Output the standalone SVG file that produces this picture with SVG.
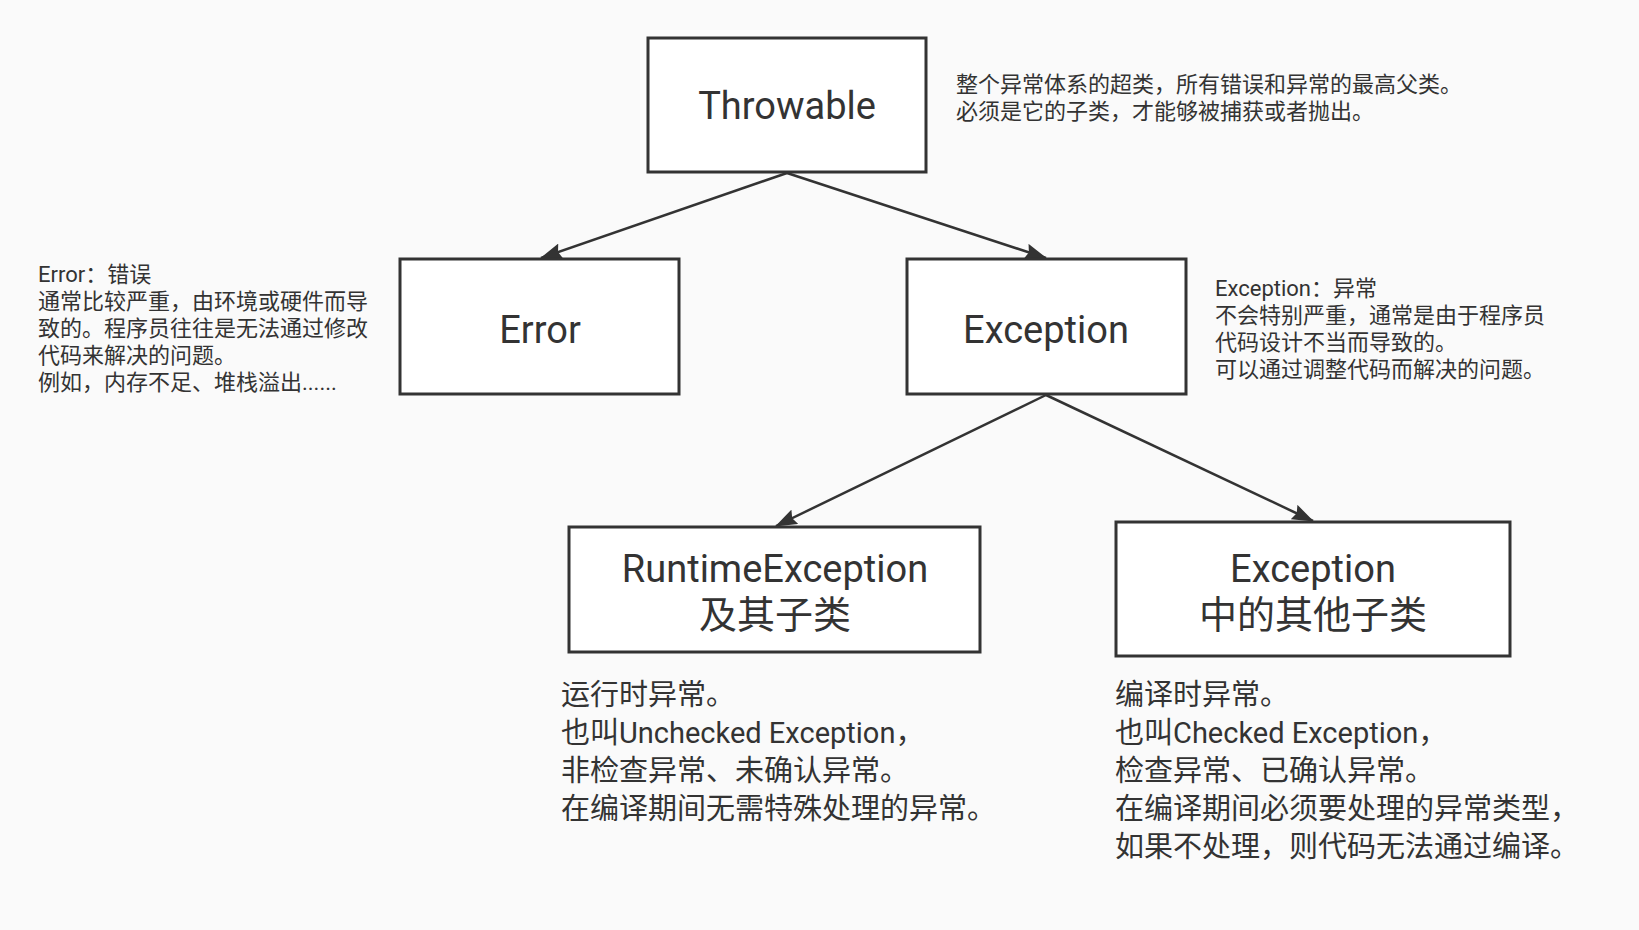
<svg xmlns="http://www.w3.org/2000/svg" width="1639" height="930" viewBox="0 0 1639 930">
<defs>
<style>
.box{fill:#ffffff;stroke:#333333;stroke-width:3}
.lbl{font-family:Roboto,"Noto Sans CJK SC",sans-serif;font-size:38px;fill:#333333;text-anchor:middle;dominant-baseline:central}
.note{font-family:Roboto,"Noto Sans CJK SC",sans-serif;font-size:22px;fill:#333333;dominant-baseline:central}
.big{font-family:Roboto,"Noto Sans CJK SC",sans-serif;font-size:29px;fill:#333333;dominant-baseline:central}
.edge{stroke:#333333;stroke-width:2.5;fill:none;marker-end:url(#arr)}
</style>
<marker id="arr" viewBox="0 0 22 16" refX="21" refY="8" markerWidth="22" markerHeight="16" markerUnits="userSpaceOnUse" orient="auto">
<path d="M0,0 L22,8 L0,16 L3,8 z" fill="#333333"/>
</marker>
</defs>
<rect width="1639" height="930" fill="#fafafa"/>
<g id="connectors">
<line class="edge" x1="787" y1="173" x2="541" y2="258"/>
<line class="edge" x1="787" y1="173" x2="1046" y2="258"/>
<line class="edge" x1="1046" y1="395" x2="776" y2="526"/>
<line class="edge" x1="1046" y1="395" x2="1313" y2="521"/>
</g>
<g id="throwable">
<rect class="box" x="648" y="38" width="278" height="134"/>
<text class="lbl" x="787" y="106">Throwable</text>
</g>
<g id="error">
<rect class="box" x="400" y="259" width="279" height="135"/>
<text class="lbl" x="540" y="330">Error</text>
</g>
<g id="exception">
<rect class="box" x="907" y="259" width="279" height="135"/>
<text class="lbl" x="1046" y="330">Exception</text>
</g>
<g id="runtime">
<rect class="box" x="569" y="527" width="411" height="125"/>
<text class="lbl" x="775" y="569">RuntimeException</text>
<text class="lbl" x="775" y="615">及其子类</text>
</g>
<g id="other">
<rect class="box" x="1116" y="522" width="394" height="134"/>
<text class="lbl" x="1313" y="569">Exception</text>
<text class="lbl" x="1313" y="615">中的其他子类</text>
</g>
<g id="throwable-note">
<text class="note" x="956" y="84">整个异常体系的超类，所有错误和异常的最高父类。</text>
<text class="note" x="956" y="111">必须是它的子类，才能够被捕获或者抛出。</text>
</g>
<g id="error-note">
<text class="note" x="38" y="274">Error：错误</text>
<text class="note" x="38" y="301">通常比较严重，由环境或硬件而导</text>
<text class="note" x="38" y="328">致的。程序员往往是无法通过修改</text>
<text class="note" x="38" y="355">代码来解决的问题。</text>
<text class="note" x="38" y="382">例如，内存不足、堆栈溢出......</text>
</g>
<g id="exception-note">
<text class="note" x="1215" y="288">Exception：异常</text>
<text class="note" x="1215" y="315">不会特别严重，通常是由于程序员</text>
<text class="note" x="1215" y="342">代码设计不当而导致的。</text>
<text class="note" x="1215" y="369">可以通过调整代码而解决的问题。</text>
</g>
<g id="runtime-note">
<text class="big" x="561" y="695">运行时异常。</text>
<text class="big" x="561" y="733">也叫Unchecked Exception，</text>
<text class="big" x="561" y="771">非检查异常、未确认异常。</text>
<text class="big" x="561" y="809">在编译期间无需特殊处理的异常。</text>
</g>
<g id="other-note">
<text class="big" x="1115" y="695">编译时异常。</text>
<text class="big" x="1115" y="733">也叫Checked Exception，</text>
<text class="big" x="1115" y="771">检查异常、已确认异常。</text>
<text class="big" x="1115" y="809">在编译期间必须要处理的异常类型，</text>
<text class="big" x="1115" y="847">如果不处理，则代码无法通过编译。</text>
</g>
</svg>
